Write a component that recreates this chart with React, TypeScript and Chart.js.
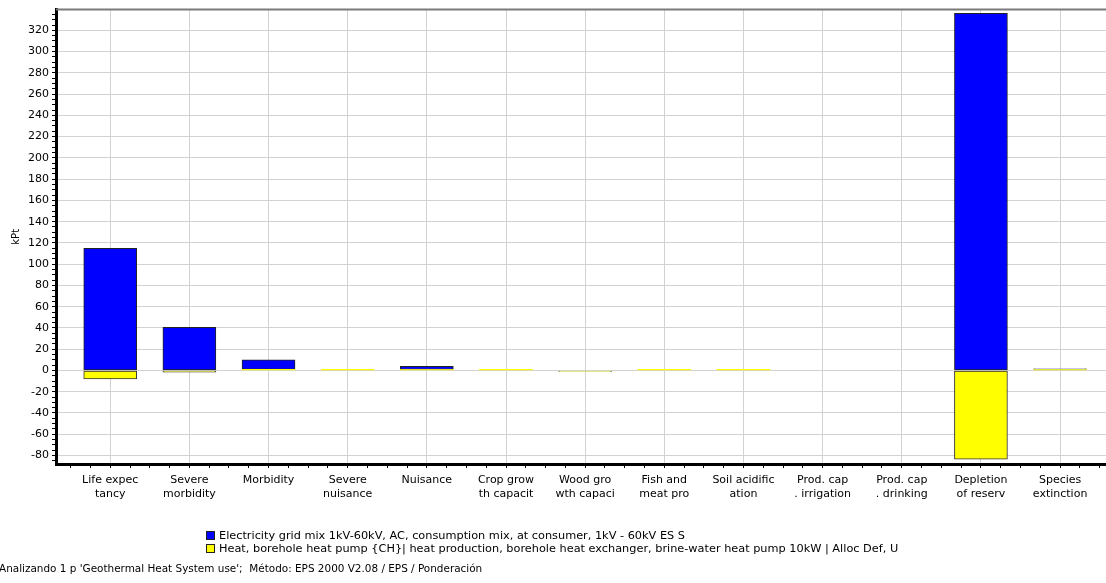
import React, { useEffect, useRef } from "react";
import { Chart, registerables } from "chart.js";

Chart.register(...registerables);

const categories: string[][] = [
  ["Life expec", "tancy"],
  ["Severe", "morbidity"],
  ["Morbidity"],
  ["Severe", "nuisance"],
  ["Nuisance"],
  ["Crop grow", "th capacit"],
  ["Wood gro", "wth capaci"],
  ["Fish and", "meat pro"],
  ["Soil acidific", "ation"],
  ["Prod. cap", ". irrigation"],
  ["Prod. cap", ". drinking"],
  ["Depletion", "of reserv"],
  ["Species", "extinction"],
];

const electricityValues: (number | null)[] = [115, 40.5, 9, null, 3, null, null, null, null, null, null, 336, 0.6];
const heatValues: (number | null)[] = [-8, -1.5, 1, 1, 0.9, 1, -0.9, 1, 1, null, null, -83.5, 0.9];

const electricityLabel = "Electricity grid mix 1kV-60kV, AC, consumption mix, at consumer, 1kV - 60kV ES S";
const heatLabel = "Heat, borehole heat pump {CH}| heat production, borehole heat exchanger, brine-water heat pump 10kW | Alloc Def, U";
const footerText = "Analizando 1 p 'Geothermal Heat System use';  Método: EPS 2000 V2.08 / EPS / Ponderación";
const yAxisTitle = "kPt";

const FONT = "'DejaVu Sans', Verdana, sans-serif";

export default function App() {
  const ref = useRef<HTMLCanvasElement | null>(null);

  useEffect(() => {
    document.body.style.margin = "0";
    if (!ref.current) return;

    const topLine = {
      id: "topLine",
      afterDraw(chart: any) {
        const { ctx, chartArea } = chart;
        ctx.save();
        ctx.strokeStyle = "#7a7a7a";
        ctx.lineWidth = 2;
        ctx.beginPath();
        ctx.moveTo(chartArea.left, chartArea.top);
        ctx.lineTo(chartArea.right, chartArea.top);
        ctx.stroke();
        ctx.restore();
      },
    };

    const bwHeat = (ctx: any) => {
      const y = ctx.raw ? ctx.raw.y : null;
      if (y === null || y === undefined) return 0;
      if (y > 0 && y < 1.05) return 0;
      return 1;
    };
    const bwElec = (ctx: any) => {
      const y = ctx.raw ? ctx.raw.y : null;
      if (y === null || y === undefined) return 0;
      return 1;
    };

    const chart = new Chart(ref.current, {
      type: "bar",
      data: {
        datasets: [
          {
            label: heatLabel,
            data: heatValues.map((v, i) => ({ x: i, y: v })),
            backgroundColor: "#ffff00",
            borderColor: "#333333",
            borderWidth: bwHeat,
            borderSkipped: false,
            barThickness: 53,
          },
          {
            label: electricityLabel,
            data: electricityValues.map((v, i) => ({ x: i, y: v })),
            backgroundColor: "#0000ff",
            borderColor: "#222222",
            borderWidth: bwElec,
            borderSkipped: false,
            barThickness: 53,
          },
        ] as any,
      },
      options: {
        animation: false,
        responsive: false,
        maintainAspectRatio: false,
        layout: { padding: { top: 7, left: 0, right: 0, bottom: 79 } },
        plugins: {
          legend: { display: false },
          tooltip: { enabled: false },
        },
        scales: {
          x: {
            type: "linear",
            stacked: true,
            offset: false,
            min: -0.685,
            max: 12.58,
            afterBuildTicks: (scale: any) => {
              const t = [];
              for (let k = -2; k <= 50; k++) t.push({ value: k * 0.25 });
              scale.ticks = t;
            },
            afterFit: (scale: any) => {
              scale.height = 40;
            },
            ticks: {
              autoSkip: false,
              maxRotation: 0,
              minRotation: 0,
              padding: 6,
              color: "#000",
              font: { family: FONT, size: 11 },
              callback: (value: any) => {
                const v = Number(value);
                if (Number.isInteger(v) && v >= 0 && v < categories.length) return categories[v];
                return "";
              },
            },
            grid: {
              offset: false,
              color: (ctx: any) =>
                ctx.tick && Number.isInteger(ctx.tick.value) ? "#d2d2d2" : "rgba(0,0,0,0)",
              tickColor: "#000",
              tickLength: 4,
              lineWidth: 1,
            },
            border: { display: true, color: "#000", width: 3 },
          },
          y: {
            stacked: true,
            min: -88,
            max: 339.5,
            afterBuildTicks: (scale: any) => {
              const t = [];
              for (let v = -85; v <= 335; v += 5) t.push({ value: v });
              scale.ticks = t;
            },
            afterFit: (scale: any) => {
              scale.width = 56;
            },
            ticks: {
              autoSkip: false,
              padding: 3,
              color: "#000",
              font: { family: FONT, size: 11 },
              callback: (value: any) => (Number(value) % 20 === 0 ? String(value) : ""),
            },
            grid: {
              color: (ctx: any) =>
                ctx.tick && ctx.tick.value % 20 === 0 ? "#d2d2d2" : "rgba(0,0,0,0)",
              tickColor: "#000",
              tickLength: 4,
              lineWidth: 1,
            },
            border: { display: true, color: "#000", width: 3 },
            title: {
              display: true,
              text: yAxisTitle,
              color: "#000",
              font: { family: FONT, size: 10 },
              padding: { top: 10, bottom: 0 },
            },
          },
        },
      },
      plugins: [topLine],
    } as any);

    return () => chart.destroy();
  }, []);

  const legendItem = (color: string, text: string, top: number) => (
    <div
      style={{
        position: "absolute",
        left: 206,
        top,
        display: "flex",
        alignItems: "center",
        fontFamily: FONT,
        fontSize: 11.3,
        color: "#000",
        whiteSpace: "nowrap",
        lineHeight: "13px",
      }}
    >
      <span
        style={{
          display: "inline-block",
          width: 7,
          height: 7,
          background: color,
          border: "1px solid #222",
          marginRight: 4,
        }}
      />
      <span>{text}</span>
    </div>
  );

  return (
    <div style={{ position: "relative", width: 1106, height: 583, background: "#fff", overflow: "hidden" }}>
      <canvas ref={ref} width={1106} height={583} style={{ position: "absolute", left: 0, top: 0 }} />
      {legendItem("#0000ff", electricityLabel, 529)}
      {legendItem("#ffff00", heatLabel, 542)}
      <div
        style={{
          position: "absolute",
          left: -1,
          top: 562,
          fontFamily: FONT,
          fontSize: 10.45,
          color: "#000",
          whiteSpace: "pre",
          lineHeight: "13px",
        }}
      >
        {footerText}
      </div>
    </div>
  );
}
